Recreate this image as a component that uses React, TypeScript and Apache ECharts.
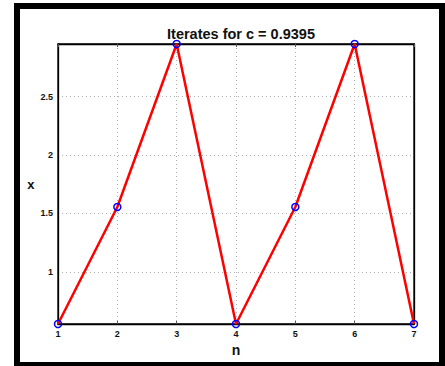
import React, { useEffect, useRef } from "react";
import * as echarts from "echarts";

const nValues = [1, 2, 3, 4, 5, 6, 7];
const xValues = [0.554, 1.556, 2.951, 0.554, 1.556, 2.951, 0.554];
const xTicks = [1, 2, 3, 4, 5, 6, 7];
const yTicks = [1, 1.5, 2, 2.5];
const titleText = "Iterates for c = 0.9395";
const yMin = 0.554;
const yMax = 2.951;

export default function App() {
  const ref = useRef<HTMLDivElement>(null);
  useEffect(() => {
    if (!ref.current) return;
    const chart = echarts.init(ref.current, null, { renderer: "svg" });
    const font = "Helvetica, Arial, 'Liberation Sans', sans-serif";
    const fmtY = (v: number) =>
      yTicks.some((t) => Math.abs(t - v) < 1e-6) ? String(v) : "";
    const gridSplit = {
      show: true,
      lineStyle: { color: "#b0b0b0", type: [1, 3] as any, width: 1 },
    };
    chart.setOption({
      animation: false,
      backgroundColor: "#fff",
      textStyle: { fontFamily: font },
      title: {
        text: titleText,
        left: 236,
        textAlign: "center",
        top: 21,
        textStyle: { fontSize: 14.5, fontWeight: "bold", color: "#111", fontFamily: font },
      },
      grid: {
        left: 58,
        top: 44,
        width: 356,
        height: 280,
        show: true,
        borderColor: "#000",
        borderWidth: 1.3,
        backgroundColor: "transparent",
      },
      xAxis: [
        {
          type: "value",
          min: 1,
          max: 7,
          interval: 1,
          name: "n",
          nameLocation: "middle",
          nameGap: 15,
          nameTextStyle: { fontSize: 14, fontWeight: "bold", color: "#111" },
          axisLine: { show: true, lineStyle: { color: "#000", width: 1.3 } },
          axisTick: { show: true, inside: true, length: 3, lineStyle: { color: "#555" } },
          axisLabel: {
            fontSize: 9,
            fontWeight: "bold",
            color: "#111",
            margin: 5,
            formatter: (v: number) => (xTicks.includes(v) ? String(v) : ""),
          },
          splitLine: gridSplit,
        },
        {
          type: "value",
          position: "top",
          min: 1,
          max: 7,
          interval: 1,
          axisLine: { show: true, lineStyle: { color: "#000", width: 1.3 } },
          axisTick: { show: true, inside: true, length: 3, lineStyle: { color: "#555" } },
          axisLabel: { show: false },
          splitLine: { show: false },
        },
      ],
      yAxis: [
        {
          type: "value",
          min: yMin,
          max: yMax,
          splitNumber: 5,
          name: "x",
          nameLocation: "middle",
          nameGap: 22,
          nameRotate: 0,
          nameTextStyle: { fontSize: 13, fontWeight: "bold", color: "#111" },
          axisLine: { show: true, lineStyle: { color: "#000", width: 1.3 } },
          axisTick: { show: false },
          axisLabel: {
            fontSize: 9,
            fontWeight: "bold",
            color: "#111",
            margin: 5,
            showMinLabel: false,
            showMaxLabel: false,
            formatter: fmtY,
          },
          splitLine: gridSplit,
        },
        {
          type: "value",
          position: "right",
          min: yMin,
          max: yMax,
          splitNumber: 5,
          axisLine: { show: true, lineStyle: { color: "#000", width: 1.3 } },
          axisTick: { show: false },
          axisLabel: { show: false },
          splitLine: { show: false },
        },
      ],
      series: [
        {
          type: "line",
          data: nValues.map((n, i) => [n, xValues[i]]),
          lineStyle: { color: "#ff0000", width: 2.5 },
          symbol: "circle",
          symbolSize: 7,
          showAllSymbol: true,
          itemStyle: { color: "rgba(0,0,0,0)", borderColor: "#0000ff", borderWidth: 1.5 },
          z: 5,
        },
      ],
      graphic: [
        {
          type: "rect",
          shape: { x: 17, y: 6, width: 425, height: 359 },
          style: { fill: "none", stroke: "#000", lineWidth: 6 },
          silent: true,
        },
      ],
    });
    return () => chart.dispose();
  }, []);
  return (
    <div
      ref={ref}
      style={{ position: "absolute", left: 0, top: 0, width: 445, height: 366 }}
    />
  );
}
